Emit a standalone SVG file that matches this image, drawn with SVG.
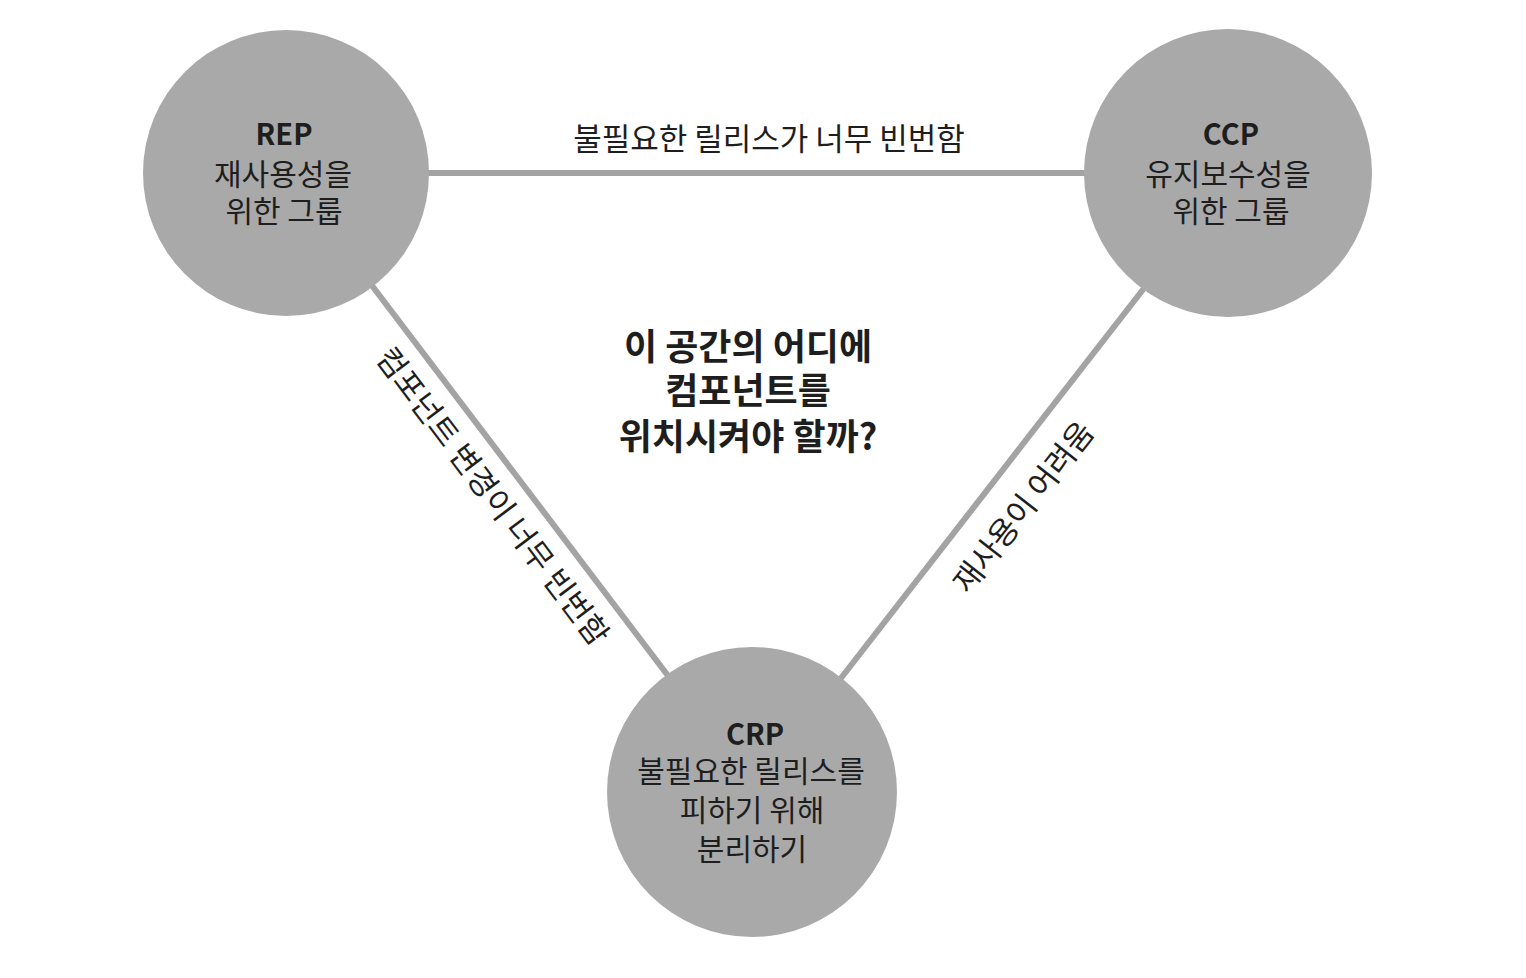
<svg xmlns="http://www.w3.org/2000/svg" width="1526" height="978" viewBox="0 0 1526 978">
<style>
.node{fill:#a9a9a9}
.conn{stroke:#a3a3a3;stroke-width:6;fill:none}
text{font-family:"Noto Sans CJK KR","Noto Sans",sans-serif;fill:#1e1e1e;text-anchor:middle}
.t{font-size:30px}
.b{font-size:29px;font-weight:bold}
.q{font-size:36px;font-weight:bold}
.l{font-size:31px}
</style>
<rect width="1526" height="978" fill="#ffffff"/>
<g id="connectors">
<line class="conn" x1="420" y1="173" x2="1095" y2="173"/>
<line class="conn" x1="370" y1="283" x2="672" y2="681"/>
<line class="conn" x1="1145" y1="287" x2="838" y2="682"/>
<text class="l" x="769" y="150">불필요한 릴리스가 너무 빈번함</text>
<text class="l" transform="translate(484,503) rotate(53)">컴포넌트 변경이 너무 빈번함</text>
<text class="l" transform="translate(1032,514) rotate(-52)">재사용이 어려움</text>
</g>
<g id="rep">
<circle class="node" cx="286" cy="173" r="143"/>
<text class="b" x="284" y="145">REP</text>
<text class="t" x="283" y="185">재사용성을</text>
<text class="t" x="284" y="222">위한 그룹</text>
</g>
<g id="ccp">
<circle class="node" cx="1228" cy="173" r="144"/>
<text class="b" x="1231" y="145">CCP</text>
<text class="t" x="1228" y="185">유지보수성을</text>
<text class="t" x="1231" y="222">위한 그룹</text>
</g>
<g id="crp">
<circle class="node" cx="752" cy="792" r="145"/>
<text class="b" x="755" y="745">CRP</text>
<text class="t" x="751" y="782">불필요한 릴리스를</text>
<text class="t" x="752" y="821">피하기 위해</text>
<text class="t" x="752" y="860">분리하기</text>
</g>
<g id="question">
<text class="q" x="748" y="360">이 공간의 어디에</text>
<text class="q" x="748" y="404">컴포넌트를</text>
<text class="q" x="748" y="450">위치시켜야 할까?</text>
</g>
</svg>
